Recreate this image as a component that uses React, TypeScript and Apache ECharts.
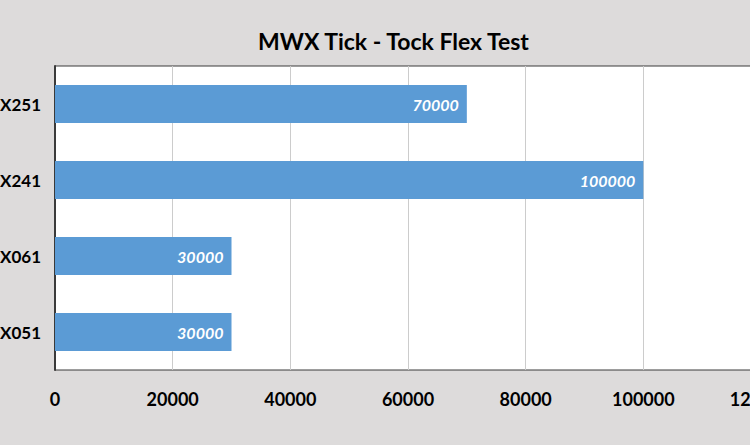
import { useEffect, useRef } from "react";
import * as echarts from "echarts";

const categories = ["X051", "X061", "X241", "X251"];
const values = [30000, 30000, 100000, 70000];
const chartTitle = "MWX Tick - Tock Flex Test";

export default function App() {
  const chartRef = useRef<HTMLDivElement>(null);

  useEffect(() => {
    document.body.style.margin = "0";
    if (!chartRef.current) return;
    const chart = echarts.init(chartRef.current, null, { renderer: "svg" });

    const option = {
      animation: false,
      backgroundColor: "#dddbdb",
      textStyle: { fontFamily: "Lato" },
      title: {
        text: chartTitle,
        left: 253,
        top: 24,
        textStyle: { fontSize: 23, fontWeight: "bold", color: "#000", fontFamily: "Lato" }
      },
      grid: {
        left: 55,
        top: 66,
        right: -11,
        bottom: 75,
        containLabel: false,
        outerBoundsMode: "none",
        show: true,
        backgroundColor: "#ffffff",
        borderColor: "#3a3a3a",
        borderWidth: 1
      },
      xAxis: {
        type: "value",
        min: 0,
        max: 120000,
        interval: 20000,
        axisLine: { show: false },
        axisTick: { show: false },
        splitLine: { lineStyle: { color: "#cccccc", width: 1 } },
        axisLabel: {
          fontSize: 18,
          fontWeight: "bold",
          color: "#000",
          margin: 20,
          formatter: (v: number) => String(v)
        }
      },
      yAxis: {
        type: "category",
        data: categories,
        axisLine: { show: true, lineStyle: { color: "#3a3a3a", width: 2 } },
        axisTick: { show: false },
        axisLabel: { fontSize: 17, fontWeight: "bold", color: "#000", margin: 14 }
      },
      series: [
        {
          type: "bar",
          data: values,
          barCategoryGap: "50%",
          itemStyle: { color: "#5b9bd5" },
          label: {
            show: true,
            position: "insideRight",
            distance: 8,
            color: "#ffffff",
            fontStyle: "italic",
            fontWeight: "bold",
            fontSize: 16,
            formatter: (p: any) => String(p.value)
          }
        }
      ]
    };

    chart.setOption(option);
    return () => chart.dispose();
  }, []);

  return <div ref={chartRef} style={{ width: 750, height: 445 }} />;
}
